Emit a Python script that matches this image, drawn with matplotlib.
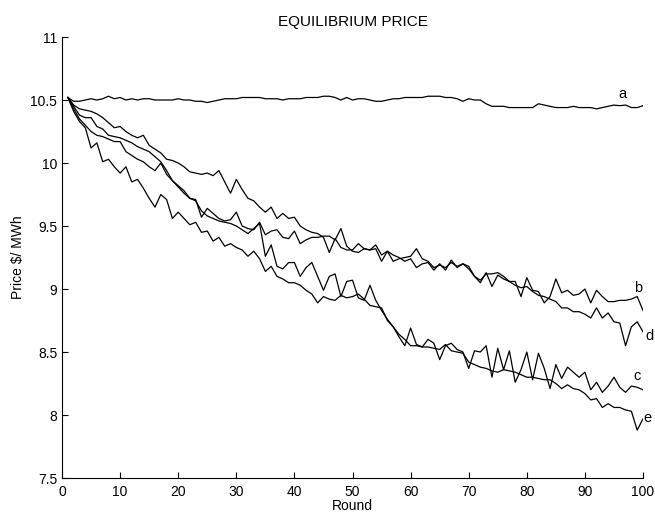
import numpy as np
import matplotlib
matplotlib.use('Agg')
import matplotlib.pyplot as plt

plt.rcParams['font.family'] = ['Liberation Sans', 'DejaVu Sans']

rounds = np.arange(1, 101)

# price per round for the five runs
price_a = [10.52, 10.49, 10.49, 10.50, 10.51, 10.50, 10.51, 10.53, 10.51, 10.52,
           10.50, 10.51, 10.50, 10.51, 10.51, 10.50, 10.50, 10.50, 10.50, 10.51,
           10.50, 10.50, 10.49, 10.49, 10.48, 10.49, 10.50, 10.51, 10.51, 10.51,
           10.52, 10.52, 10.52, 10.52, 10.51, 10.51, 10.51, 10.50, 10.51, 10.51,
           10.51, 10.52, 10.52, 10.52, 10.53, 10.53, 10.52, 10.50, 10.52, 10.50,
           10.51, 10.51, 10.50, 10.49, 10.49, 10.50, 10.51, 10.51, 10.52, 10.52,
           10.52, 10.52, 10.53, 10.53, 10.53, 10.52, 10.52, 10.51, 10.49, 10.51,
           10.50, 10.50, 10.47, 10.45, 10.45, 10.45, 10.44, 10.44, 10.44, 10.44,
           10.44, 10.47, 10.46, 10.45, 10.44, 10.44, 10.44, 10.45, 10.44, 10.44,
           10.44, 10.43, 10.44, 10.45, 10.46, 10.455, 10.46, 10.44, 10.44, 10.455]

price_b = [10.52, 10.46, 10.43, 10.42, 10.41, 10.39, 10.36, 10.32, 10.28, 10.29,
           10.25, 10.22, 10.20, 10.22, 10.14, 10.11, 10.08, 10.03, 10.02, 10.00,
           9.97, 9.93, 9.92, 9.91, 9.92, 9.90, 9.94, 9.85, 9.76, 9.87,
           9.79, 9.72, 9.70, 9.65, 9.61, 9.65, 9.56, 9.60, 9.56, 9.57,
           9.50, 9.47, 9.45, 9.44, 9.41, 9.29, 9.40, 9.33, 9.31, 9.31,
           9.36, 9.32, 9.31, 9.35, 9.27, 9.30, 9.27, 9.25, 9.22, 9.24,
           9.17, 9.20, 9.21, 9.15, 9.20, 9.15, 9.23, 9.17, 9.20, 9.18,
           9.10, 9.05, 9.13, 9.02, 9.11, 9.08, 9.06, 9.06, 8.94, 9.09,
           8.99, 8.98, 8.89, 8.94, 9.08, 8.97, 8.99, 8.95, 8.96, 9.00,
           8.89, 8.99, 8.94, 8.90, 8.90, 8.91, 8.91, 8.92, 8.94, 8.83]

price_c = [10.52, 10.43, 10.35, 10.30, 10.25, 10.22, 10.21, 10.19, 10.17, 10.17,
           10.09, 10.06, 10.03, 10.01, 9.97, 9.94, 10.00, 9.91, 9.86, 9.81,
           9.76, 9.72, 9.70, 9.62, 9.58, 9.56, 9.54, 9.53, 9.52, 9.50,
           9.47, 9.44, 9.48, 9.52, 9.26, 9.35, 9.18, 9.16, 9.21, 9.21,
           9.10, 9.17, 9.21, 9.10, 8.99, 9.10, 9.12, 8.94, 9.06, 9.07,
           8.93, 8.91, 9.03, 8.91, 8.83, 8.76, 8.70, 8.62, 8.55, 8.69,
           8.56, 8.54, 8.60, 8.57, 8.44, 8.55, 8.57, 8.52, 8.50, 8.37,
           8.51, 8.50, 8.55, 8.30, 8.53, 8.36, 8.51, 8.26, 8.36, 8.50,
           8.28, 8.49, 8.37, 8.21, 8.40, 8.29, 8.38, 8.34, 8.30, 8.34,
           8.20, 8.26, 8.18, 8.23, 8.30, 8.22, 8.18, 8.23, 8.22, 8.20]

price_d = [10.52, 10.45, 10.38, 10.36, 10.36, 10.29, 10.27, 10.22, 10.21, 10.20,
           10.18, 10.16, 10.13, 10.11, 10.09, 10.05, 10.01, 9.94, 9.86, 9.82,
           9.78, 9.72, 9.71, 9.57, 9.64, 9.60, 9.56, 9.54, 9.55, 9.61,
           9.50, 9.48, 9.47, 9.53, 9.43, 9.46, 9.47, 9.41, 9.40, 9.46,
           9.36, 9.39, 9.41, 9.41, 9.42, 9.42, 9.39, 9.48, 9.34, 9.30,
           9.29, 9.32, 9.31, 9.32, 9.22, 9.30, 9.22, 9.24, 9.25, 9.26,
           9.32, 9.24, 9.22, 9.17, 9.19, 9.17, 9.21, 9.18, 9.20, 9.16,
           9.10, 9.07, 9.12, 9.12, 9.13, 9.10, 9.06, 9.03, 9.01, 9.02,
           8.98, 8.95, 8.94, 8.92, 8.90, 8.85, 8.85, 8.82, 8.82, 8.80,
           8.77, 8.85, 8.77, 8.81, 8.74, 8.73, 8.55, 8.70, 8.74, 8.66]

price_e = [10.52, 10.41, 10.33, 10.28, 10.12, 10.16, 10.01, 10.03, 9.97, 9.92,
           9.97, 9.85, 9.87, 9.80, 9.72, 9.65, 9.75, 9.71, 9.56, 9.61,
           9.56, 9.51, 9.53, 9.45, 9.46, 9.38, 9.41, 9.34, 9.36, 9.33,
           9.31, 9.26, 9.30, 9.24, 9.14, 9.18, 9.10, 9.08, 9.05, 9.05,
           9.03, 8.99, 8.96, 8.89, 8.94, 8.92, 8.91, 8.95, 8.93, 8.94,
           8.96, 8.92, 8.87, 8.86, 8.85, 8.75, 8.70, 8.64, 8.60, 8.55,
           8.55, 8.54, 8.54, 8.53, 8.52, 8.56, 8.51, 8.50, 8.49, 8.42,
           8.40, 8.38, 8.37, 8.35, 8.34, 8.36, 8.35, 8.34, 8.32, 8.30,
           8.30, 8.29, 8.28, 8.28, 8.25, 8.21, 8.24, 8.21, 8.20, 8.17,
           8.12, 8.13, 8.06, 8.09, 8.06, 8.06, 8.04, 8.03, 7.88, 7.97]

series = [price_a, price_b, price_c, price_d, price_e]
labels = ['a', 'b', 'd', 'c', 'e']
# where each letter sits (round, price) next to its line end
label_pos = [(96.5, 10.517), (99.2, 8.976), (101.1, 8.594), (98.9, 8.276), (100.7, 7.942)]

fig = plt.figure(figsize=(6.55, 5.14), dpi=100)
ax = fig.add_axes([0.0947, 0.070, 0.887, 0.858])

for s in series:
    ax.plot(rounds, s, color='black', linewidth=0.9)

for lab, (x, y) in zip(labels, label_pos):
    ax.text(x, y, lab, fontsize=10.5, ha='center', va='baseline', clip_on=False)

ax.set_xlim(0, 100)
ax.set_ylim(7.5, 11)
ax.set_xticks(np.arange(0, 101, 10))
ax.set_yticks(np.arange(7.5, 11.01, 0.5))
ax.set_yticklabels(['%g' % v for v in np.arange(7.5, 11.01, 0.5)])

ax.spines['top'].set_visible(False)
ax.spines['right'].set_visible(False)
ax.spines['left'].set_linewidth(0.8)
ax.spines['bottom'].set_linewidth(0.8)
ax.tick_params(axis='both', direction='in', length=4, width=0.8, labelsize=10)
ax.tick_params(axis='x', pad=5)
ax.tick_params(axis='y', pad=3.5)

ax.set_title('EQUILIBRIUM PRICE', fontsize=11, pad=8)
ax.set_xlabel('Round', fontsize=10, labelpad=0)
ax.set_ylabel('Price $/ MWh', fontsize=10, labelpad=4)

fig.savefig('out.png', dpi=100)
